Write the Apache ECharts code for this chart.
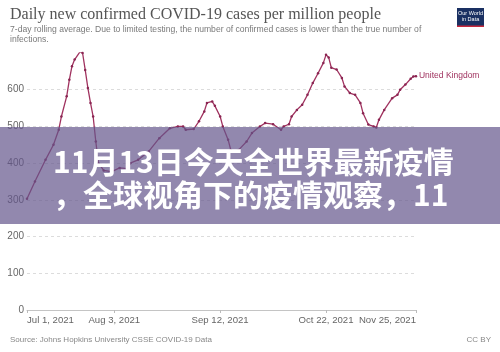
<!DOCTYPE html>
<html>
<head>
<meta charset="utf-8">
<script src="https://cdn.jsdelivr.net/npm/echarts@6/dist/echarts.min.js"></script>
<style>
  html, body { margin: 0; padding: 0; background: #fff; }
  #chart { width: 500px; height: 352px; }
</style>
</head>
<body>
<div id="chart"></div>
<script>
// UK, daily new confirmed cases per million (7-day avg)
const dates = [
  '2021-07-01', '2021-07-04', '2021-07-08', '2021-07-11', '2021-07-13', '2021-07-14',
  '2021-07-16', '2021-07-17', '2021-07-18', '2021-07-19', '2021-07-21', '2021-07-22',
  '2021-07-23', '2021-07-24', '2021-07-25', '2021-07-26', '2021-07-27', '2021-07-28',
  '2021-07-30', '2021-08-02', '2021-08-05', '2021-08-08', '2021-08-09', '2021-08-12',
  '2021-08-16', '2021-08-20', '2021-08-24', '2021-08-27', '2021-08-29', '2021-08-30',
  '2021-09-02', '2021-09-04', '2021-09-06', '2021-09-07', '2021-09-09', '2021-09-10',
  '2021-09-12', '2021-09-13', '2021-09-15', '2021-09-16', '2021-09-17', '2021-09-19',
  '2021-09-22', '2021-09-24', '2021-09-27', '2021-09-29', '2021-10-02', '2021-10-05',
  '2021-10-06', '2021-10-08', '2021-10-09', '2021-10-11', '2021-10-13', '2021-10-15',
  '2021-10-17', '2021-10-19', '2021-10-21', '2021-10-22', '2021-10-23', '2021-10-24',
  '2021-10-26', '2021-10-28', '2021-10-29', '2021-10-31', '2021-11-02', '2021-11-04',
  '2021-11-05', '2021-11-07', '2021-11-09', '2021-11-10', '2021-11-11', '2021-11-13',
  '2021-11-16', '2021-11-18', '2021-11-19', '2021-11-21', '2021-11-23', '2021-11-24',
  '2021-11-25'
];
const cases = [
  303, 350, 409, 450, 491, 527,
  582, 627, 664, 682, 703, 700,
  654, 605, 564, 527, 459, 400,
  380, 377, 387, 385, 400, 409,
  432, 468, 495, 500, 500, 491,
  493, 514, 541, 564, 568, 556,
  527, 500, 464, 436, 432, 436,
  459, 482, 500, 509, 506, 491,
  500, 506, 527, 545, 559, 586,
  618, 645, 673, 695, 688, 660,
  655, 632, 609, 591, 586, 564,
  536, 505, 500, 497, 518, 545,
  577, 586, 600, 614, 630, 636,
  637
];
const xTickDates = ['2021-07-01', '2021-08-03', '2021-09-12', '2021-10-22', '2021-11-25'];
const yTicks = [0, 100, 200, 300, 400, 500, 600];
const seriesName = 'United Kingdom';
const monthNames = ['Jan', 'Feb', 'Mar', 'Apr', 'May', 'Jun', 'Jul', 'Aug', 'Sep', 'Oct', 'Nov', 'Dec'];

const DAY = 86400000;
const toTime = s => {
  const [y, m, d] = s.split('-').map(Number);
  return Date.UTC(y, m - 1, d);
};
const t0 = toTime(dates[0]);
// x is counted in days from the first date
const toDay = s => Math.round((toTime(s) - t0) / DAY);
const fmtDay = v => {
  const d = new Date(t0 + v * DAY);
  return monthNames[d.getUTCMonth()] + ' ' + d.getUTCDate() + ', ' + d.getUTCFullYear();
};

const chart = echarts.init(document.getElementById('chart'));
const lineColor = '#a0325f';
const sans = 'Liberation Sans, Arial, sans-serif';
const xTicks = xTickDates.map(toDay);
const lastDay = toDay(dates[dates.length - 1]);

const option = {
  animation: false,
  grid: { left: 27, right: 84, top: 53, bottom: 42 },
  xAxis: {
    type: 'value',
    min: 0,
    max: lastDay + 0.01,
    axisLine: { lineStyle: { color: '#c4c4c4' } },
    axisTick: {
      show: true,
      length: 3,
      customValues: xTicks,
      lineStyle: { color: '#bbb' }
    },
    axisLabel: {
      customValues: xTicks,
      formatter: fmtDay,
      color: '#666',
      fontSize: 9.6,
      fontFamily: sans,
      margin: 5,
      showMinLabel: true,
      showMaxLabel: true,
      alignMinLabel: 'left',
      alignMaxLabel: 'right',
      hideOverlap: false
    },
    splitLine: { show: false }
  },
  yAxis: {
    type: 'value',
    min: 0,
    max: 700,
    interval: 100,
    axisLine: { show: false },
    axisTick: { show: false },
    axisLabel: {
      color: '#666',
      fontSize: 10,
      fontFamily: sans,
      margin: 3,
      showMaxLabel: false,
      formatter: v => (yTicks.indexOf(v) >= 0 ? String(v) : '')
    },
    splitLine: {
      showMaxLine: false,
      lineStyle: { color: '#dcdcdc', type: [3, 3], width: 1 }
    }
  },
  series: [{
    name: seriesName,
    type: 'line',
    data: dates.map((d, i) => [toDay(d), cases[i]]),
    symbol: 'circle',
    symbolSize: 2.5,
    showSymbol: true,
    itemStyle: { color: '#8a2552' },
    lineStyle: { color: lineColor, width: 1.3 },
    endLabel: {
      show: true,
      formatter: seriesName,
      color: '#a0325f',
      fontSize: 8.5,
      fontFamily: sans,
      distance: 3
    },
    z: 3
  }],
  graphic: [
    {
      type: 'text', left: 10, top: 7,
      style: {
        text: 'Daily new confirmed COVID-19 cases per million people',
        fill: '#555', font: '16px "Liberation Serif", serif'
      }
    },
    {
      type: 'text', left: 10, top: 24,
      style: {
        text: '7-day rolling average. Due to limited testing, the number of confirmed cases is lower than the true number of\ninfections.',
        fill: '#7a7a7a', font: '8.6px "Liberation Sans", Arial, sans-serif', lineHeight: 10.5
      }
    },
    {
      type: 'group', left: 457, top: 8,
      children: [
        { type: 'rect', shape: { x: 0, y: 0, width: 27, height: 19 }, style: { fill: '#1a3062' } },
        { type: 'rect', shape: { x: 0, y: 17.5, width: 27, height: 1.5 }, style: { fill: '#c8283c' } },
        {
          type: 'text', x: 13.5, y: 8.5,
          style: {
            text: 'Our World\nin Data', fill: '#fff', align: 'center', verticalAlign: 'middle',
            font: '5.5px "Liberation Sans", Arial, sans-serif', lineHeight: 6.5
          }
        }
      ]
    },
    {
      type: 'text', left: 10, top: 336,
      style: {
        text: 'Source: Johns Hopkins University CSSE COVID-19 Data',
        fill: '#888', font: '8px "Liberation Sans", Arial, sans-serif'
      }
    },
    {
      type: 'text', right: 9, top: 336,
      style: { text: 'CC BY', fill: '#888', font: '8px "Liberation Sans", Arial, sans-serif' }
    },
    {
      type: 'rect', left: 0, top: 127, z: 100,
      shape: { width: 500, height: 97 },
      style: { fill: 'rgba(100, 85, 140, 0.7)' }
    },
    {
      type: 'text', x: 53, y: 162, z: 101,
      style: {
        text: '11月13日今天全世界最新疫情', fill: '#fff', verticalAlign: 'middle',
        font: 'bold 30px "Noto Sans CJK SC", sans-serif'
      }
    },
    {
      type: 'text', x: 53, y: 195, z: 101,
      style: {
        text: '，全球视角下的疫情观察，11', fill: '#fff', verticalAlign: 'middle',
        font: 'bold 30px "Noto Sans CJK SC", sans-serif'
      }
    }
  ]
};

chart.setOption(option);
window.addEventListener('resize', () => chart.resize());
</script>
</body>
</html>
